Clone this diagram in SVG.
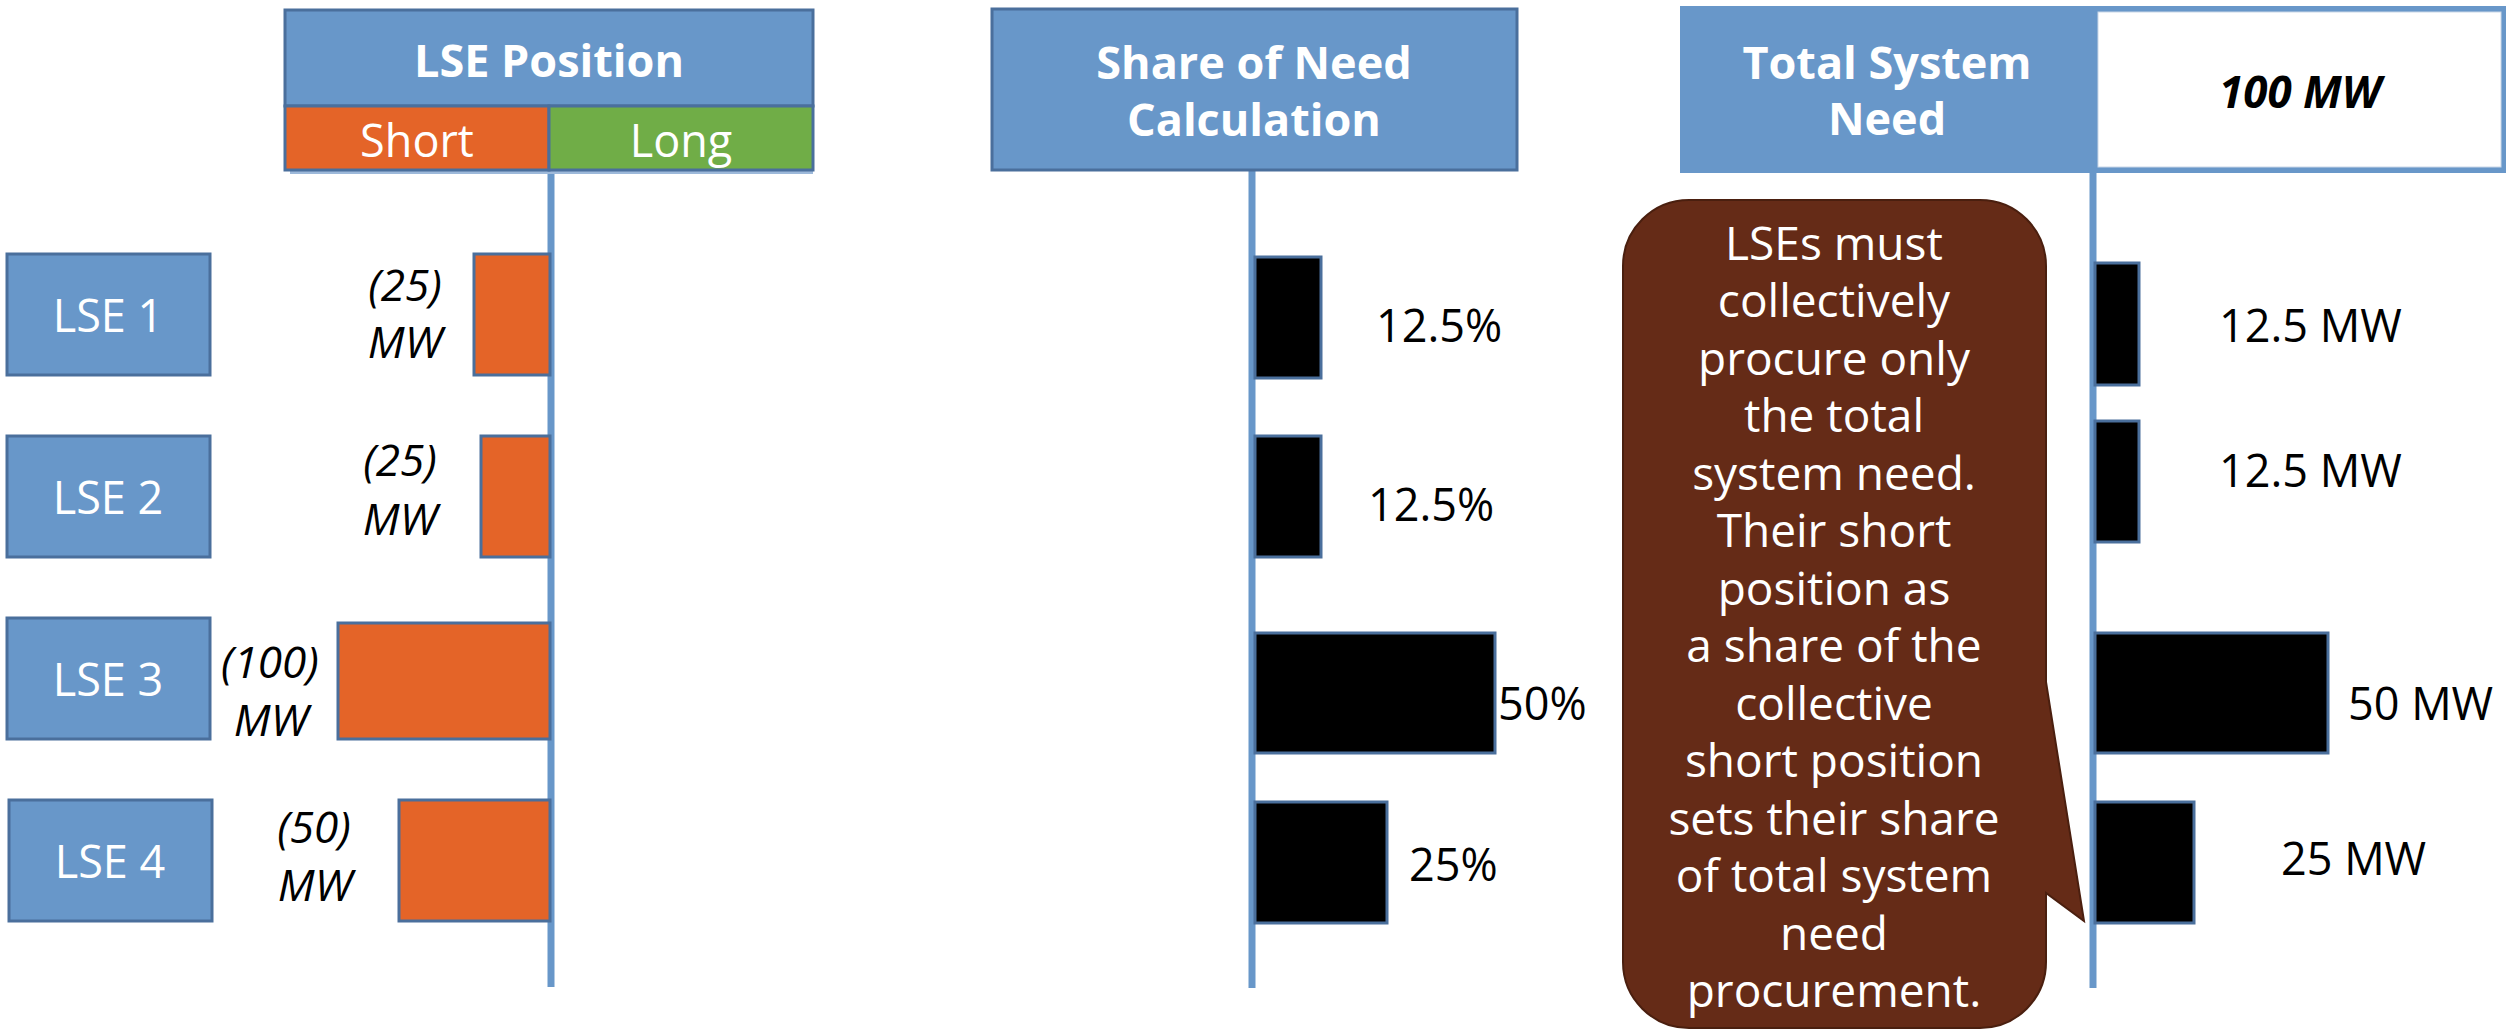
<svg xmlns="http://www.w3.org/2000/svg" width="2509" height="1031" viewBox="0 0 2509 1031">
<style>
.hdr{fill:#6897C9;stroke:#4A6F9C;stroke-width:3}
.lse{fill:#6897C9;stroke:#4A6F9C;stroke-width:3}
.ob{fill:#E46428;stroke:#4A6F9C;stroke-width:3}
.bb{fill:#000;stroke:#4A6F9C;stroke-width:3}
.axis{stroke:#6897C9;stroke-width:7;fill:none}
text{font-family:"Open Sans","Liberation Sans",sans-serif}
.ht{fill:#fff;font-size:45px;font-weight:bold;text-anchor:middle}
.wt{fill:#fff;font-size:45px;text-anchor:middle}
.it{fill:#000;font-size:44px;font-style:italic;text-anchor:middle}
.vt{fill:#000;font-size:45px}
.ct{fill:#fff;font-size:46px;text-anchor:middle}
</style>

<g id="connectors">
<line class="axis" x1="551" y1="170" x2="551" y2="987"/>
<line class="axis" x1="1252" y1="170" x2="1252" y2="988"/>
<line class="axis" x1="2093" y1="172" x2="2093" y2="988"/>
</g>

<g id="header-lse-position">
<rect class="hdr" x="285" y="10" width="528" height="96"/>
<text class="ht" x="549" y="77">LSE Position</text>
<rect x="290" y="170" width="523" height="4" fill="#9DB9DA"/>
<rect x="285" y="106" width="264" height="64" fill="#E46428" stroke="#4A6F9C" stroke-width="3"/>
<rect x="549" y="106" width="264" height="64" fill="#70AD47" stroke="#4A6F9C" stroke-width="3"/>
<text class="wt" x="417" y="157">Short</text>
<text class="wt" x="681" y="157">Long</text>
</g>

<g id="header-share">
<rect class="hdr" x="992" y="9" width="525" height="161"/>
<text class="ht" x="1254" y="79">Share of Need</text>
<text class="ht" x="1254" y="136">Calculation</text>
</g>

<g id="header-total">
<rect x="1680" y="6" width="826" height="167" fill="#6897C9"/>
<rect x="2098" y="12" width="403" height="155" fill="#fff" stroke="#C9D7E8" stroke-width="1"/>
<text class="ht" x="1887" y="79">Total System</text>
<text class="ht" x="1887" y="135">Need</text>
<text x="2300" y="108" style="fill:#000;font-size:44px;font-weight:bold;font-style:italic;text-anchor:middle">100 MW</text>
</g>

<g id="lse1">
<rect class="lse" x="7" y="254" width="203" height="121"/>
<text class="wt" x="108" y="332">LSE 1</text>
<rect class="ob" x="474" y="254" width="76" height="121"/>
<text class="it" x="405" y="301">(25)</text>
<text class="it" x="405" y="358">MW</text>
</g>

<g id="lse2">
<rect class="lse" x="7" y="436" width="203" height="121"/>
<text class="wt" x="108" y="514">LSE 2</text>
<rect class="ob" x="481" y="436" width="69" height="121"/>
<text class="it" x="400" y="476">(25)</text>
<text class="it" x="400" y="535">MW</text>
</g>

<g id="lse3">
<rect class="lse" x="7" y="618" width="203" height="121"/>
<text class="wt" x="108" y="696">LSE 3</text>
<rect class="ob" x="338" y="623" width="212" height="116"/>
<text class="it" x="270" y="678">(100)</text>
<text class="it" x="271" y="736">MW</text>
</g>

<g id="lse4">
<rect class="lse" x="9" y="800" width="203" height="121"/>
<text class="wt" x="110" y="878">LSE 4</text>
<rect class="ob" x="399" y="800" width="151" height="121"/>
<text class="it" x="314" y="843">(50)</text>
<text class="it" x="315" y="901">MW</text>
</g>

<g id="share-bars">
<rect class="bb" x="1255" y="257" width="66" height="121"/>
<text class="vt" x="1376" y="342">12.5%</text>
<rect class="bb" x="1255" y="436" width="66" height="121"/>
<text class="vt" x="1368" y="521">12.5%</text>
<rect class="bb" x="1255" y="633" width="240" height="120"/>
<text class="vt" x="1498" y="720">50%</text>
<rect class="bb" x="1255" y="802" width="132" height="121"/>
<text class="vt" x="1409" y="881">25%</text>
</g>

<g id="total-bars">
<rect class="bb" x="2095" y="263" width="44" height="122"/>
<text class="vt" x="2219" y="342">12.5 MW</text>
<rect class="bb" x="2095" y="421" width="44" height="121"/>
<text class="vt" x="2219" y="487">12.5 MW</text>
<rect class="bb" x="2095" y="633" width="233" height="120"/>
<text class="vt" x="2348" y="720">50 MW</text>
<rect class="bb" x="2095" y="802" width="99" height="121"/>
<text class="vt" x="2281" y="875">25 MW</text>
</g>

<g id="callout">
<path d="M1689,200 H1980 A66,66 0 0 1 2046,266 V682 L2084,921 L2046,893 V962 A66,66 0 0 1 1980,1028 H1689 A66,66 0 0 1 1623,962 V266 A66,66 0 0 1 1689,200 Z" fill="#652B17" stroke="#4A1F0F" stroke-width="2"/>
<text class="ct" x="1834" y="260">LSEs must</text>
<text class="ct" x="1834" y="317">collectively</text>
<text class="ct" x="1834" y="375">procure only</text>
<text class="ct" x="1834" y="432">the total</text>
<text class="ct" x="1834" y="490">system need.</text>
<text class="ct" x="1834" y="547">Their short</text>
<text class="ct" x="1834" y="605">position as</text>
<text class="ct" x="1834" y="662">a share of the</text>
<text class="ct" x="1834" y="720">collective</text>
<text class="ct" x="1834" y="777">short position</text>
<text class="ct" x="1834" y="835">sets their share</text>
<text class="ct" x="1834" y="892">of total system</text>
<text class="ct" x="1834" y="950">need</text>
<text class="ct" x="1834" y="1007">procurement.</text>
</g>
</svg>
